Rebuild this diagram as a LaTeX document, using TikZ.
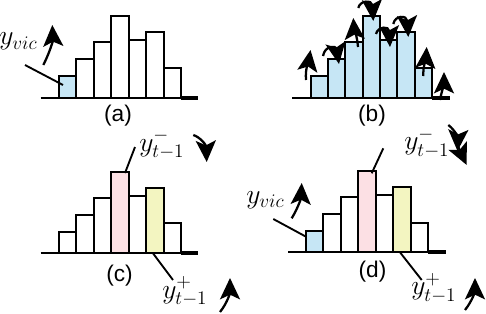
\documentclass[tikz,border=0pt]{standalone}
\usepackage{fontspec}
\newfontfamily\labelfont{Liberation Sans}
\usetikzlibrary{arrows.meta}
\definecolor{barblue}{RGB}{198,230,245}
\definecolor{barpink}{RGB}{252,224,228}
\definecolor{baryellow}{RGB}{243,245,193}
\begin{document}
\begin{tikzpicture}[x=0.75pt,y=-0.75pt,
  bar/.style={draw=black,line width=1.5pt},
  axisline/.style={line width=1.5pt},
  axisend/.style={line width=2.8pt},
  leader/.style={line width=1.4pt},
  motion/.style={line width=1.7pt,-{Stealth[length=16pt,width=15pt,inset=3.5pt]}},
  panel/.style={font=\labelfont\fontsize{17}{20}\selectfont,inner sep=0pt},
  mathlabel/.style={font=\fontsize{22.5}{26}\selectfont,inner sep=0pt,anchor=base west}]
\useasboundingbox (0,0) rectangle (486,314);

% ---------- panel (a)
\foreach \i/\t/\c in {0/76/barblue,1/59.3/white,2/41.7/white,3/15.7/white,4/40/white,5/31.7/white,6/67.7/white}
  \draw[bar,fill=\c] ({58.7+\i*17.47},97.7) rectangle ({58.7+(\i+1)*17.47},\t);
\draw[axisline] (40.7,97.7) -- (181,97.7);
\draw[axisend] (181,97.7) -- (198,97.7);
\node[panel] (la) at (118,116) {(a)};
\node[mathlabel] (avic) at (-1,45) {$y_{vic}$};
\coordinate (avicS) at (25,65);
\coordinate (avicB) at (63,85);
\draw[leader] (avicS) -- (avicB);
\coordinate (aA0) at (43.3,65);
\coordinate (aA1) at (52.3,25);
\draw[motion] (aA0) .. controls (50,52) and (53,40) .. (aA1);

% ---------- panel (b)
\foreach \i/\t in {0/76,1/59.3,2/41.7,3/15.7,4/40,5/31.7,6/67.7}
  \draw[bar,fill=barblue] ({310.7+\i*17.33},97.7) rectangle ({310.7+(\i+1)*17.33},\t);
\draw[axisline] (292.3,97.7) -- (432,97.7);
\draw[axisend] (432,97.7) -- (449.7,97.7);
\node[panel] (lb) at (372,116) {(b)};
\draw[motion] (306,80) .. controls (305,68) and (309,60) .. (310.5,50);
\draw[motion] (323,56) .. controls (325,45) and (336,46) .. (339,64);
\draw[motion] (358,47) .. controls (357,35) and (354,28) .. (353.3,18);
\draw[motion] (358.3,8) .. controls (360,0) and (372,0) .. (373.3,21);
\draw[motion] (376,34) .. controls (378,26) and (389,26) .. (390,47);
\draw[motion] (393.3,24) .. controls (395,15) and (407,15) .. (408.3,37);
\draw[motion] (423.3,76) .. controls (423,66) and (426,58) .. (426.7,47);
\draw[motion] (440,100) .. controls (442,90) and (444,84) .. (444,72);

% ---------- panel (c)
\foreach \i/\t/\c in {0/231.7/white,1/215.3/white,2/197.7/white,3/171.7/barpink,4/196/white,5/187.7/baryellow,6/223.3/white}
  \draw[bar,fill=\c] ({58.7+\i*17.47},253.3) rectangle ({58.7+(\i+1)*17.47},\t);
\draw[axisline] (40.7,253.3) -- (181,253.3);
\draw[axisend] (181,253.3) -- (198,253.3);
\node[panel] (lc) at (119.5,276) {(c)};
\node[mathlabel] (cminus) at (139,151) {$y^-_{t-1}$};
\coordinate (cmS) at (135,147);
\coordinate (cmB) at (125,173);
\draw[leader] (cmS) -- (cmB);
\draw[motion] (193.3,135) .. controls (200,137) and (206,145) .. (206.7,162);
\node[mathlabel] (cplus) at (162,298) {$y^+_{t-1}$};
\coordinate (cpS) at (173,280);
\coordinate (cpB) at (153,253.3);
\draw[leader] (cpB) -- (cpS);
\draw[motion] (220,312) .. controls (228,302) and (230,292) .. (230,278);

% ---------- panel (d)
\foreach \i/\t/\c in {0/230.7/barblue,1/214.3/white,2/196.7/white,3/171/barpink,4/195/white,5/186.7/baryellow,6/222.7/white}
  \draw[bar,fill=\c] ({306+\i*17.47},252.3) rectangle ({306+(\i+1)*17.47},\t);
\draw[axisline] (288.3,252.3) -- (428.3,252.3);
\draw[axisend] (428.3,252.3) -- (446,252.3);
\node[panel] (ld) at (372.5,271.5) {(d)};
\node[mathlabel] (dvic) at (246,203) {$y_{vic}$};
\coordinate (dvicS) at (273.3,219);
\coordinate (dvicB) at (306,236.7);
\draw[leader] (dvicS) -- (dvicB);
\draw[motion] (291.7,218.3) .. controls (298,208) and (301,198) .. (301.7,183);
\node[mathlabel] (dminus) at (404,149.5) {$y^-_{t-1}$};
\coordinate (dmS) at (383.3,148.3);
\coordinate (dmB) at (371.7,173.3);
\draw[leader] (dmS) -- (dmB);
\draw[motion] (448.3,125) .. controls (455,130) and (458,138) .. (457.5,151);
\draw[motion] (455,140) -- (466.7,165);
\node[mathlabel] (dplus) at (411,294.5) {$y^+_{t-1}$};
\coordinate (dpS) at (421.7,280);
\coordinate (dpB) at (400,252.3);
\draw[leader] (dpB) -- (dpS);
\draw[motion] (465,310) .. controls (473,300) and (475,290) .. (475,278);
\end{tikzpicture}
\end{document}
